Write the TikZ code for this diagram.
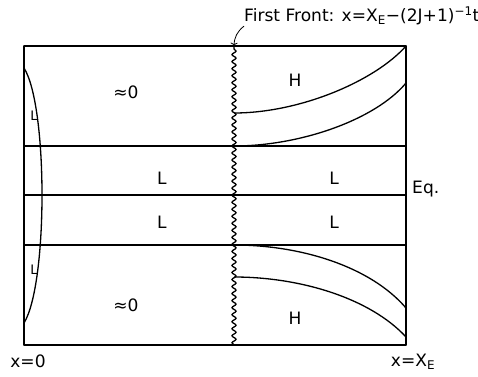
\documentclass[tikz,border=0pt]{standalone}
\usepackage{fontspec}
\setmainfont{DejaVu Sans}
\usetikzlibrary{arrows,calc,decorations.pathmorphing}
\usepackage{tkz-euclide}

\begin{document}
\begin{tikzpicture}[scale=.35,
  curve/.style={line width=1.3pt},
  lab/.style={font=\fontsize{17}{19}\selectfont,inner sep=1pt},
  small/.style={font=\fontsize{13}{15}\selectfont,inner sep=0pt}]
\tkzSetUpLine[line width=1.3pt,color=black]
\useasboundingbox (0,0) rectangle (47.8,37.6);

\tkzDefPoints{2.4/3.1/A,40.6/3.1/B,40.6/33/C,2.4/33/D}
\tkzDefPoints{2.4/13.1/P1,40.6/13.1/Q1,2.4/18.1/P2,40.6/18.1/Q2,2.4/23/P3,40.6/23/Q3}
\tkzDefPoints{23.4/3.1/F1,23.4/33/F2}
\tkzDefPoints{23.4/26.3/U1,23.4/23/U2,23.4/13.1/W1,23.4/9.9/W2}
\tkzDefPoints{40.6/29.3/R1,40.6/6.8/R2,40.6/3.9/R3}

\tkzDrawSegments(A,B B,C C,D D,A P1,Q1 P2,Q2 P3,Q3)

% the wavy first front
\draw[curve,decorate,decoration={snake,segment length=7pt,amplitude=2pt}] (F1) -- (F2);

% upper and lower fronts
\draw[curve] (U1) .. controls (30,26.3) and (37.5,29.5) .. (C);
\draw[curve] (U2) .. controls (30,23) and (37.5,25.6) .. (R1);
\draw[curve] (W1) .. controls (30,13.1) and (37,11) .. (R2);
\draw[curve] (W2) .. controls (30,9.9) and (37,7.8) .. (R3);
\draw[curve] (2.4,30.8) .. controls (4.8,27) and (4.8,9.2) .. (2.4,5.3);

\node[lab] (z1) at (12.6,28.4) {≈0};
\node[lab] (z2) at (12.6,7.1) {≈0};
\node[lab] (h1) at (29.5,29.6) {H};
\node[lab] (h2) at (29.5,5.8) {H};
\node[lab] (l1) at (16.2,19.8) {L};
\node[lab] (l2) at (33.4,19.8) {L};
\node[lab] (l3) at (16.2,15.4) {L};
\node[lab] (l4) at (33.4,15.4) {L};
\node[small] (s1) at (3.4,26.0) {L};
\node[small] (s2) at (3.4,10.6) {L};
\node[lab,anchor=west] (eq) at (41.1,18.7) {Eq.};
\node[lab] (x0) at (2.8,1.5) {x=0};
\node[lab] (xe) at (41.3,1.4) {x=X\textsubscript{E}};
\node[lab,anchor=west] (front) at (24.3,36.0)
  {First Front: x=X\textsubscript{E}−(2J+1)\textsuperscript{−1}t};

\draw[->,line width=.8pt] ([xshift=3pt,yshift=1pt]front.south west) to[bend right=25] (F2);

\end{tikzpicture}
\end{document}
